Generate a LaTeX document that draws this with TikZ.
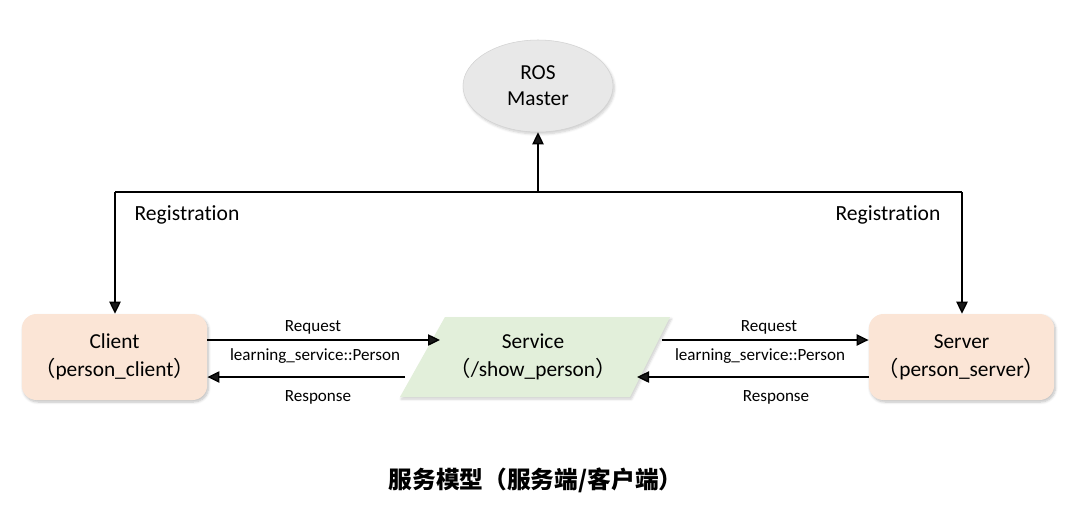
\documentclass[tikz,border=0pt]{standalone}
\usepackage{fontspec}
\setmainfont{Carlito}[Ligatures=NoCommon]
\newfontfamily\cjk{Noto Sans CJK SC}
\usetikzlibrary{arrows.meta,shapes.geometric,shadows.blur}
\definecolor{peach}{HTML}{FBE5D6}
\definecolor{svcgreen}{HTML}{E2EFDA}
\definecolor{mastergray}{HTML}{E8E8E8}
\tikzset{
  box/.style={rounded corners=11pt, fill=peach, minimum width=139pt, minimum height=64.5pt, align=center, font=\fontsize{16}{21}\selectfont, blur shadow={shadow blur steps=6, shadow xshift=1pt, shadow yshift=-1.5pt, shadow opacity=25}},
  master/.style={ellipse, fill=mastergray, draw=gray!35, minimum width=112.5pt, minimum height=69pt, align=center, font=\fontsize{16}{19.5}\selectfont, blur shadow={shadow blur steps=6, shadow xshift=1pt, shadow yshift=-1.5pt, shadow opacity=20}},
  conn/.style={line width=1pt, -{Triangle[width=8.5pt,length=9pt]}},
  wire/.style={line width=1pt},
  lbl/.style={font=\fontsize{12.8}{14}\selectfont, inner sep=0pt},
  reglbl/.style={font=\fontsize{16.2}{18}\selectfont, inner sep=0pt},
  svctext/.style={align=center, font=\fontsize{16}{21}\selectfont},
}
\begin{document}
\begin{tikzpicture}[x=0.75pt,y=-0.75pt]
\useasboundingbox (0,0) rectangle (1069,515);
% ROS Master
\node[master] (master) at (538,86) {ROS\\Master};
% Client and Server
\node[box] (client) at (114.5,357) {Client\\{\cjk （}person\_client{\cjk ）}};
\node[box] (server) at (961.5,357) {Server\\{\cjk （}person\_server{\cjk ）}};
% Service parallelogram
\coordinate (p1) at (400,397);
\coordinate (p2) at (630,397);
\coordinate (p3) at (670,317);
\coordinate (p4) at (445,317);
\fill[svcgreen, blur shadow={shadow blur steps=6, shadow xshift=1pt, shadow yshift=-1.5pt, shadow opacity=20}] (p1) -- (p2) -- (p3) -- (p4) -- cycle;
\node[svctext] (svc) at (533,357) {Service\\{\cjk （}/show\_person{\cjk ）}};
% registration wiring
\coordinate (jl) at (115,192);
\coordinate (jr) at (962,192);
\coordinate (jm) at (538,192);
\draw[wire] (jl) -- (jr);
\draw[conn] (jm) -- (master.south);
\draw[conn] (jl) -- (client.north -| jl);
\draw[conn] (jr) -- (server.north -| jr);
\node[reglbl] (regl) at (187,215) {Registration};
\node[reglbl] (regr) at (888,215) {Registration};
% left arrows
\coordinate (lreqe) at (440,340);
\coordinate (lress) at (405,377);
\draw[conn] (client.east |- lreqe) -- (lreqe);
\draw[conn] (lress) -- (client.east |- lress);
\node[lbl] (lreq) at (313,327) {Request};
\node[lbl] (ltype) at (315,356) {learning\_service::Person};
\node[lbl] (lres) at (318,397) {Response};
% right arrows
\coordinate (rreqs) at (662,340);
\coordinate (rrese) at (637,377);
\draw[conn] (rreqs) -- (server.west |- rreqs);
\draw[conn] (server.west |- rrese) -- (rrese);
\node[lbl] (rreq) at (769,327) {Request};
\node[lbl] (rtype) at (760,356) {learning\_service::Person};
\node[lbl] (rres) at (776,397) {Response};
% caption
\node[font={\cjk\bfseries\fontsize{17.8}{20}\selectfont}] (cap) at (535.5,480) {服务模型（服务端/客户端）};
\end{tikzpicture}
\end{document}
